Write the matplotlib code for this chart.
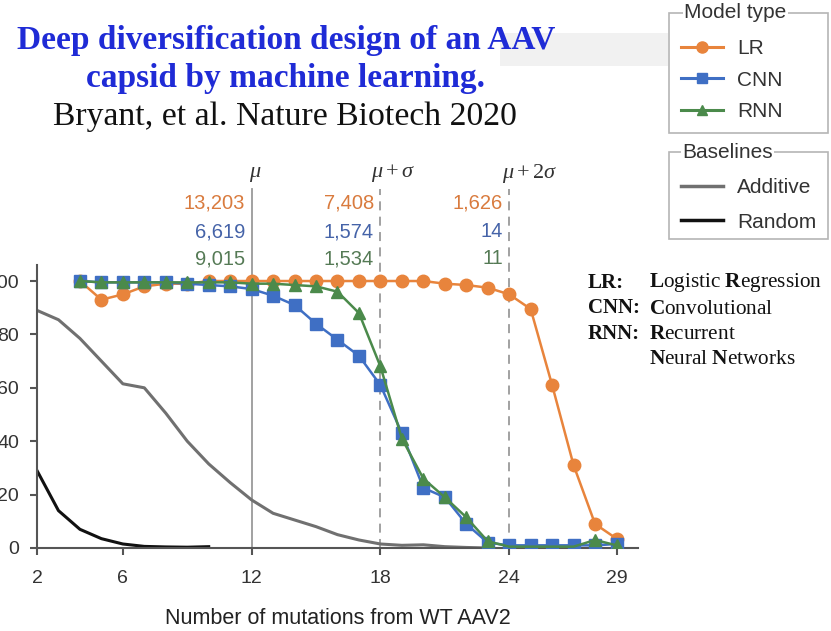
#!/usr/bin/env python3
"""
Recreation of the AAV capsid model-comparison slide (Bryant et al. 2020).
Saves out.png at 831x631.
"""

import matplotlib
matplotlib.use("Agg")
import matplotlib.pyplot as plt
from matplotlib.lines import Line2D
from matplotlib.patches import Rectangle

# ------------------------
# DATA
# ------------------------
model_x = list(range(4, 30))
lr_vals = [100, 93, 95, 98, 99, 99, 100, 100, 100, 100, 100, 100, 100,
           100, 100, 100, 100, 99, 98.5, 97.5, 95, 89.5, 61, 31, 9, 3.5]
cnn_vals = [100, 99.5, 99.5, 99.5, 99.5, 99, 98.5, 98, 97, 94.5, 91, 84, 78,
            72, 61, 43, 22.5, 19, 9, 2, 1, 1, 1, 1, 1, 1.5]
rnn_vals = [100, 99.5, 99.5, 99.5, 99.5, 99.5, 99.5, 99.5, 99, 99, 98.5, 98,
            96, 88, 68, 41, 26, 19, 11.5, 2.5, 0.5, 0.5, 0.5, 0.5, 3, 1]

additive_x = list(range(2, 24))
additive_vals = [89, 85.5, 78.5, 70, 61.5, 60, 50.5, 40, 31.5, 24.5, 18, 13,
                 10.5, 8, 5, 3, 1.5, 1, 1.2, 0.5, 0.2, 0]
random_x = list(range(2, 11))
random_vals = [29, 14, 7, 3.5, 1.5, 0.6, 0.4, 0.3, 0.5]

x_ticks = [2, 6, 12, 18, 24, 29]
y_ticks = [0, 20, 40, 60, 80, 100]

thresholds = [12, 18, 24]
threshold_names = [r"$\mu$", r"$\mu + \sigma$", r"$\mu + 2\sigma$"]
lr_counts = ["13,203", "7,408", "1,626"]
cnn_counts = ["6,619", "1,574", "14"]
rnn_counts = ["9,015", "1,534", "11"]

# ------------------------
# STYLE
# ------------------------
C_LR = "#e8843c"
C_CNN = "#3f6fc4"
C_RNN = "#4b8a4b"
C_LR_TXT = "#d97b3e"
C_CNN_TXT = "#4563a8"
C_RNN_TXT = "#557a55"
C_ADD = "#707070"
C_RND = "#111111"
C_AXIS = "#555555"
C_TITLE = "#1f2bd6"

SANS = ["Liberation Sans", "DejaVu Sans"]
SERIF = ["Liberation Serif", "DejaVu Serif"]

plt.rcParams["font.family"] = SANS
plt.rcParams["mathtext.fontset"] = "custom"
plt.rcParams["mathtext.rm"] = "Liberation Serif"
plt.rcParams["mathtext.it"] = "Liberation Serif:italic"
plt.rcParams["mathtext.bf"] = "Liberation Serif:bold"

W, H = 831, 631
fig = plt.figure(figsize=(W / 100, H / 100), dpi=100)


def fx(px):
    return px / W


def fy(py):
    return 1 - py / H


ax = fig.add_axes([fx(37), fy(548), fx(638) - fx(37), fy(265) - fy(548)])

# ------------------------
# Lines
# ------------------------
ax.plot(additive_x, additive_vals, color=C_ADD, lw=2.2, zorder=2)
ax.plot(random_x, random_vals, color=C_RND, lw=2.2, zorder=2)

ax.plot(model_x, lr_vals, color=C_LR, lw=1.8, marker="o", ms=9,
        mec=C_LR, zorder=3)
ax.plot(model_x, cnn_vals, color=C_CNN, lw=1.8, marker="s", ms=9,
        mec=C_CNN, zorder=4)
# green triangles at 24-27 are hidden under the blue squares in the original
rnn_marks = [i for i, x in enumerate(model_x) if not 24 <= x <= 27]
ax.plot(model_x, rnn_vals, color=C_RNN, lw=1.8, marker="^", ms=9,
        mec=C_RNN, markevery=rnn_marks, zorder=5)

# threshold lines + counts above the axes
top_y = 134.5
for i, xv in enumerate(thresholds):
    ls = "-" if i == 0 else (0, (5, 3.5))
    ax.plot([xv, xv], [0, top_y], color="#9a9a9a", lw=1.3, ls=ls,
            clip_on=False, zorder=1)
name_x = [12.15, 18.6, 24.95]
for nm, nx in zip(threshold_names, name_x):
    ax.text(nx, 140.3, nm, ha="center", va="center", fontsize=16,
            color="#333333")
for xv, a, b, c in zip(thresholds, lr_counts, cnn_counts, rnn_counts):
    for txt, yv, col in ((a, 129.3, C_LR_TXT), (b, 118.5, C_CNN_TXT),
                         (c, 108.3, C_RNN_TXT)):
        ax.text(xv - 0.3, yv, txt, ha="right", va="center", fontsize=14.5,
                color=col)

# ------------------------
# Axes styling
# ------------------------
ax.set_xlim(2, 30)
ax.set_ylim(0, 106)
ax.set_xticks(x_ticks)
ax.set_yticks(y_ticks)
for s in ("top", "right"):
    ax.spines[s].set_visible(False)
for s in ("left", "bottom"):
    ax.spines[s].set_color(C_AXIS)
    ax.spines[s].set_linewidth(1.5)
ax.tick_params(axis="both", colors=C_AXIS, width=1.5, length=5,
               labelsize=14, labelcolor="#333333")
ax.tick_params(axis="x", pad=11)
ax.tick_params(axis="y", pad=8)
ax.set_xlabel("Number of mutations from WT AAV2", fontsize=15.5,
              color="#222222", labelpad=15)

# ------------------------
# Slide title
# ------------------------
fig.add_artist(Rectangle((fx(500), fy(66)), fx(668) - fx(500),
                         fy(33) - fy(66), transform=fig.transFigure,
                         facecolor="#f1f1f1", edgecolor="none", zorder=0))
fig.text(fx(286), fy(40), "Deep diversification design of an AAV",
         family=SERIF, weight="bold", fontsize=24, color=C_TITLE,
         ha="center", va="center")
fig.text(fx(286), fy(79), "capsid by machine learning.",
         family=SERIF, weight="bold", fontsize=24, color=C_TITLE,
         ha="center", va="center")
fig.text(fx(285), fy(117), "Bryant, et al. Nature Biotech 2020",
         family=SERIF, fontsize=24.3, color="#111111",
         ha="center", va="center")

# ------------------------
# Legends (boxes with title on the frame edge)
# ------------------------
def legend_box(x0, x1, y0, y1, title, tx):
    fig.add_artist(Rectangle((fx(x0), fy(y1)), fx(x1) - fx(x0),
                             fy(y0) - fy(y1), transform=fig.transFigure,
                             facecolor="white", edgecolor="#b5b5b5", lw=1.2))
    fig.text(fx(tx), fy(y0), title, fontsize=15, color="#333333",
             ha="left", va="center",
             bbox=dict(facecolor="white", edgecolor="none", pad=1))


legend_box(669, 828, 13, 133, "Model type", 684)
legend_box(669, 828, 152, 239, "Baselines", 682)

model_handles = [
    Line2D([], [], color=C_LR, lw=2.2, marker="o", ms=8),
    Line2D([], [], color=C_CNN, lw=2.2, marker="s", ms=7),
    Line2D([], [], color=C_RNN, lw=2.2, marker="^", ms=7),
]
base_handles = [
    Line2D([], [], color=C_ADD, lw=2.5),
    Line2D([], [], color=C_RND, lw=2.5),
]
leg1 = fig.legend(model_handles, ["LR", "CNN", "RNN"], loc="upper left",
                  bbox_to_anchor=(fx(681), fy(39)), frameon=False,
                  fontsize=15, handlelength=2.0, handletextpad=0.7,
                  labelspacing=0.6, borderaxespad=0, borderpad=0)
leg2 = fig.legend(base_handles, ["Additive", "Random"], loc="upper left",
                  bbox_to_anchor=(fx(681), fy(178)), frameon=False,
                  fontsize=15, handlelength=2.0, handletextpad=0.7,
                  labelspacing=0.75, borderaxespad=0, borderpad=0)
for t in leg1.get_texts() + leg2.get_texts():
    t.set_color("#333333")

# ------------------------
# Abbreviation key
# ------------------------
abbr = ["LR:", "CNN:", "RNN:", ""]
desc = [r"$\mathbf{L}\mathrm{ogistic}\ \mathbf{R}\mathrm{egression}$",
        r"$\mathbf{C}\mathrm{onvolutional}$",
        r"$\mathbf{R}\mathrm{ecurrent}$",
        r"$\mathbf{N}\mathrm{eural}\ \mathbf{N}\mathrm{etworks}$"]
for i, (a, d) in enumerate(zip(abbr, desc)):
    yy = 283 + 25.3 * i
    if a:
        fig.text(fx(588), fy(yy), a, family=SERIF, weight="bold",
                 fontsize=15, color="#111111", ha="left", va="center")
    fig.text(fx(649), fy(yy), d, fontsize=15.3, color="#111111",
             ha="left", va="center")

fig.savefig("out.png", dpi=100)
